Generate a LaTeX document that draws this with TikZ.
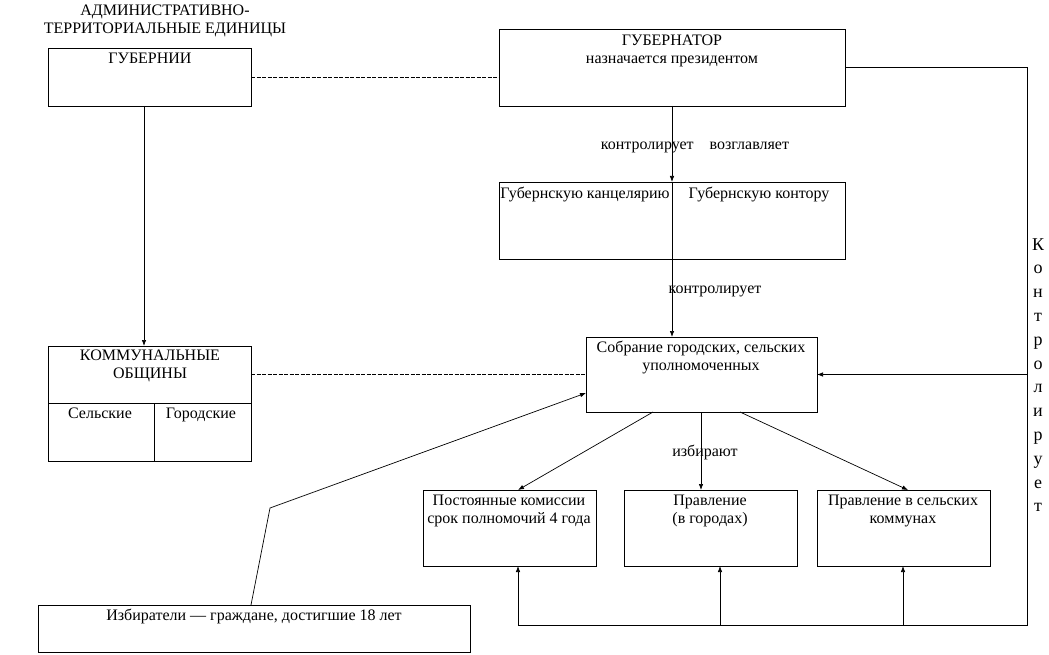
\documentclass[tikz,border=0pt]{standalone}
\usepackage{fontspec}
\setmainfont{Liberation Serif}
\usetikzlibrary{arrows.meta}
\newcommand\fsz{\fontsize{16}{18}\selectfont}
\newcommand\fsv{\fontsize{18}{23.8}\selectfont}
\begin{document}
\begin{tikzpicture}[x=1pt,y=-1pt,
  box/.style={draw, line width=0.9pt, anchor=north west, inner sep=0pt, outer sep=0pt},
  txt/.style={anchor=north, yshift=12.6pt, inner sep=0pt, align=center, font=\fsz},
  vtxt/.style={anchor=north, yshift=16.7pt, inner sep=0pt, align=center, font=\fsv},
  ln/.style={line width=0.7pt},
  arr/.style={line width=0.7pt, -{Latex[length=6pt,width=4.5pt]}},
  dl/.style={line width=0.7pt, dash pattern=on 4pt off 1.5pt}]
\fill[white] (0,0) rectangle (1049,655);
\useasboundingbox (0,0) rectangle (1049,655);

% boxes
\node[box, minimum width=203pt, minimum height=58pt] (gub) at (48,48) {};
\node[box, minimum width=346pt, minimum height=77pt] (gov) at (499,29) {};
\node[box, minimum width=346pt, minimum height=77pt] (kanc) at (499,182) {};
\node[box, minimum width=231pt, minimum height=75pt] (sobr) at (586,337) {};
\node[box, minimum width=203pt, minimum height=115pt] (kom) at (48,346) {};
\node[box, minimum width=173pt, minimum height=76pt] (post) at (423,490) {};
\node[box, minimum width=173pt, minimum height=76pt] (prg) at (624,490) {};
\node[box, minimum width=173pt, minimum height=76pt] (prs) at (817,490) {};
\node[box, minimum width=432pt, minimum height=47pt] (izb) at (38,605) {};

% texts
\node[txt] (t1) at (165,15) {\strut АДМИНИСТРАТИВНО-\\ТЕРРИТОРИАЛЬНЫЕ ЕДИНИЦЫ};
\node[txt] (t2) at (150,63) {\strut ГУБЕРНИИ};
\node[txt] (t3) at (672,45) {\strut ГУБЕРНАТОР\\назначается президентом};
\node[txt] (t4) at (695,149) {\strut контролирует\quad возглавляет};
\node[txt] (t5) at (585,198) {\strut Губернскую канцелярию};
\node[txt] (t6) at (759,198) {\strut Губернскую контору};
\node[txt] (t7) at (715,293) {\strut контролирует};
\node[txt] (t8) at (701,352) {\strut Собрание городских, сельских\\уполномоченных};
\node[txt] (t9) at (150,360) {\strut КОММУНАЛЬНЫЕ\\ОБЩИНЫ};
\node[txt] (t10) at (100,418) {\strut Сельские};
\node[txt] (t11) at (201,418) {\strut Городские};
\node[txt] (t12) at (705,456) {\strut избирают};
\node[txt] (t13) at (509,505) {\strut Постоянные комиссии\\срок полномочий 4 года};
\node[txt] (t14) at (710,505) {\strut Правление\\(в городах)};
\node[txt] (t15) at (903,505) {\strut Правление в сельских\\коммунах};
\node[txt] (t16) at (254,620) {\strut Избиратели — граждане, достигшие 18 лет};
\node[vtxt] (t17) at (1038,250) {\strut К\\о\\н\\т\\р\\о\\л\\и\\р\\у\\е\\т};

% community box dividers
\coordinate (kd) at (154,0);
\draw[line width=0.9pt] (kom.west) -- (kom.east);
\draw[line width=0.9pt] (kom.west -| kd) -- (kom.south -| kd);

% connectors
\coordinate (gx) at (144,0);
\draw[arr] (gub.south -| gx) -- (kom.north -| gx);
\draw[dl] (gub.east) -- (gub.east -| gov.west);
\draw[dl] (sobr.west -| kom.east) -- (sobr.west);
\draw[arr] (gov.south) -- (kanc.north);
\draw[ln] (kanc.north) -- (kanc.south);
\draw[arr] (kanc.south) -- (kanc.south |- sobr.north);

\coordinate (rt) at (1027,625);
\coordinate (b1) at (518,625);
\coordinate (b2) at (720,625);
\coordinate (b3) at (903,625);
\draw[ln] (gov.east) -| (rt) -- (b1);
\draw[arr] (sobr.east -| rt) -- (sobr.east);
\draw[arr] (b1) -- (b1 |- post.south);
\draw[arr] (b2) -- (b2 |- prg.south);
\draw[arr] (b3) -- (b3 |- prs.south);

\coordinate (ix) at (251,0);
\coordinate (k1) at (270,508);
\coordinate (sy) at (0,393);
\draw[arr] (izb.north -| ix) -- (k1) -- (sobr.west |- sy);

\coordinate (d1) at (653,0);
\coordinate (v2) at (701,0);
\coordinate (d3) at (740,0);
\coordinate (d3e) at (908,0);
\draw[arr] (sobr.south -| d1) -- (post.north -| b1);
\draw[arr] (sobr.south -| v2) -- (prg.north -| v2);
\draw[arr] (sobr.south -| d3) -- (prs.north -| d3e);
\end{tikzpicture}
\end{document}
